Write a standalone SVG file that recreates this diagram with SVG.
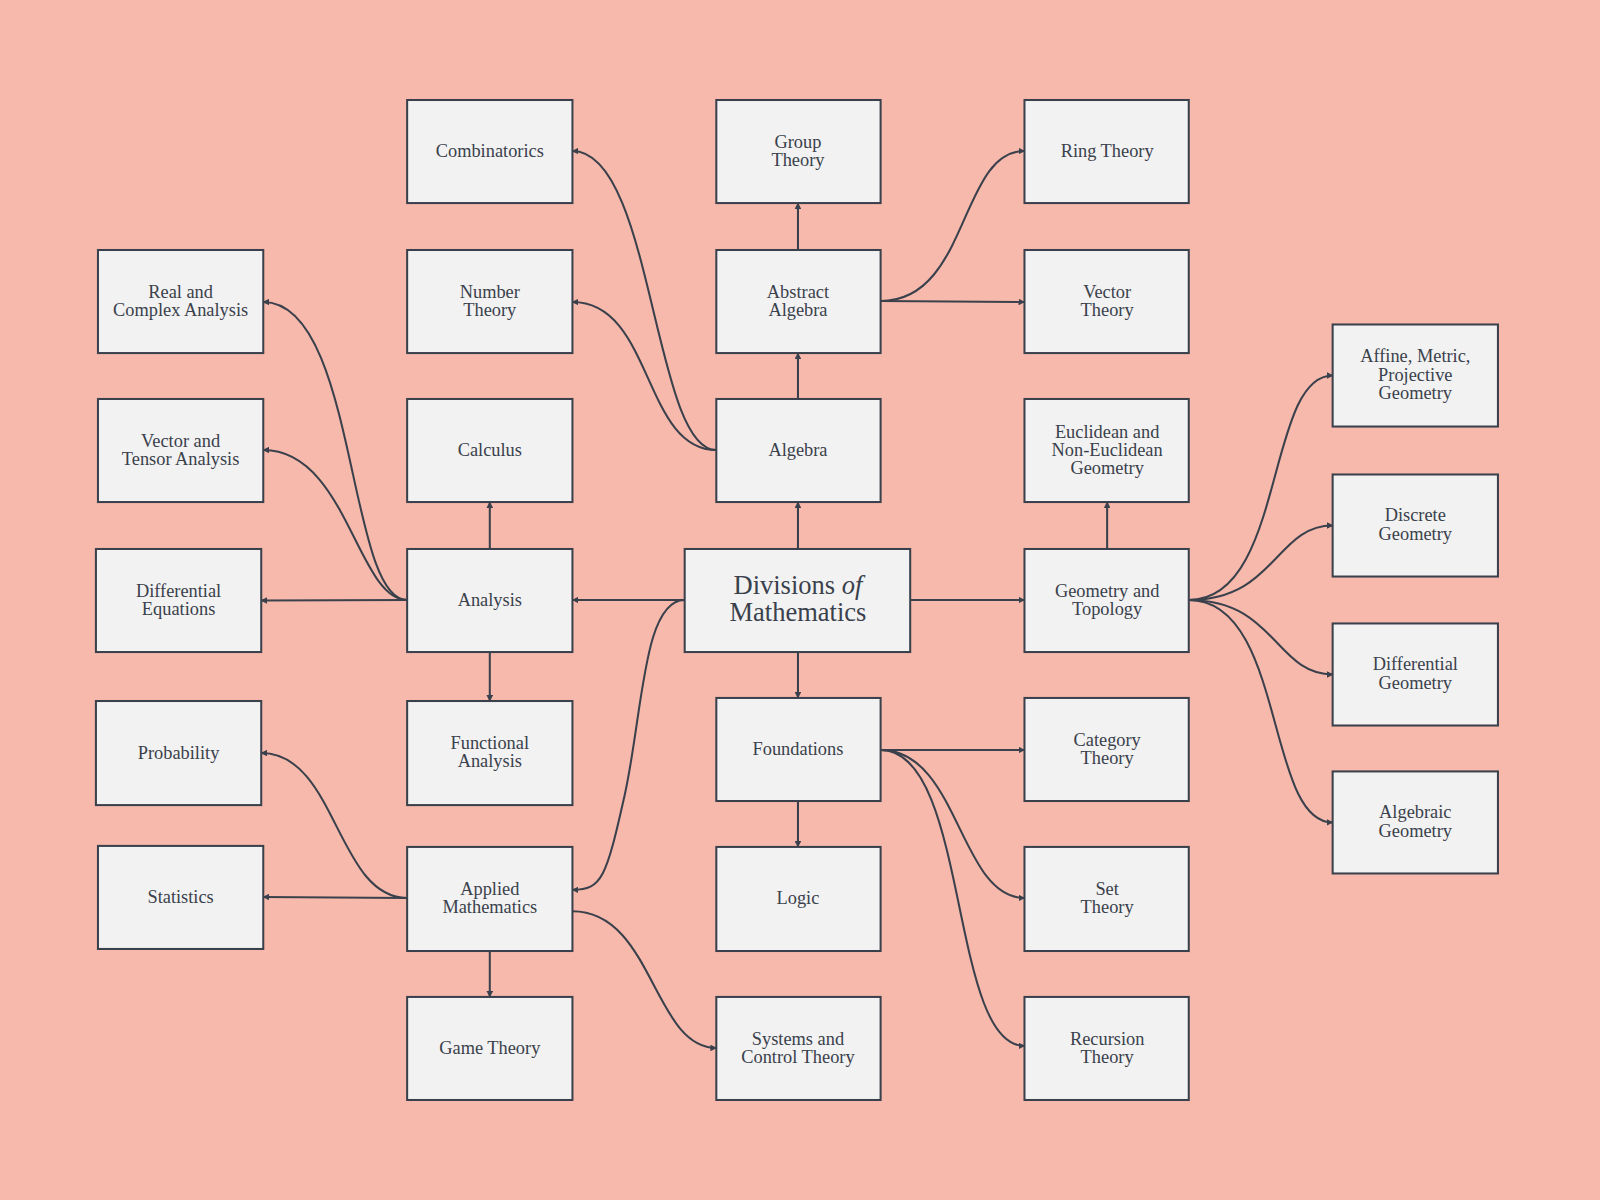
<svg xmlns="http://www.w3.org/2000/svg" width="1600" height="1200" viewBox="0 0 1600 1200">
<defs>
<marker id="a" viewBox="0 0 10 10" refX="9" refY="5" markerWidth="6.5" markerHeight="6.5" orient="auto" markerUnits="userSpaceOnUse"><path d="M0,0L10,5L0,10z" fill="#3a414c"/></marker>
<style>
.n rect{fill:#f2f2f2;stroke:#3a414c;stroke-width:2}
.n text{font-family:"Liberation Serif","DejaVu Serif",serif;font-size:18px;fill:#3a414c;text-anchor:middle}
#edges path{fill:none;stroke:#3a414c;stroke-width:2;marker-end:url(#a)}
</style>
</defs>
<rect width="1600" height="1200" fill="#f7b9ab"/>
<g transform="scale(1.0204)">
<g id="edges">
<path d="M671,588H561"/><path d="M892,588H1004"/><path d="M782,538V492"/><path d="M782,639V684"/>
<path d="M671,588C630,588 630,700 612,780S590,872 561,872"/>
<path d="M480,538V492"/><path d="M480,639V687"/><path d="M399,588L256,588.5"/>
<path d="M399,588C350,588 340,441 258,441"/>
<path d="M399,588C340,588 350,296 258,296"/>
<path d="M782,391V346"/>
<path d="M702,441C630,441 640,296 561,296"/>
<path d="M702,441C640,441 640,148 561,148"/>
<path d="M782,245V199"/>
<path d="M863,295C950,295 940,148 1004,148"/>
<path d="M863,295L1004,296"/>
<path d="M1085,538V492"/>
<path d="M1165,588C1260,588 1240,368 1306,368"/>
<path d="M1165,588C1250,588 1250,515 1306,515"/>
<path d="M1165,588C1250,588 1250,661 1306,661"/>
<path d="M1165,588C1260,588 1240,806 1306,806"/>
<path d="M863,735H1004"/>
<path d="M863,735C940,735 940,880 1004,880"/>
<path d="M863,735C950,735 930,1025 1004,1025"/>
<path d="M782,785V830"/>
<path d="M399,880C330,880 330,738 256,738"/>
<path d="M399,880L258,879"/>
<path d="M480,932V977"/>
<path d="M561,893C640,893 640,1027 702,1027"/>
</g>
<g id="center" class="n"><rect x="671" y="538" width="221" height="101"/><text x="782" y="582" style="font-size:26px">Divisions <tspan font-style="italic">of</tspan></text><text x="782" y="609" style="font-size:26px">Mathematics</text></g>
<g id="combinatorics" class="n"><rect x="399" y="98" width="162" height="101"/><text x="480" y="154">Combinatorics</text></g>
<g id="group" class="n"><rect x="702" y="98" width="161" height="101"/><text x="782" y="145">Group</text><text x="782" y="163">Theory</text></g>
<g id="ring" class="n"><rect x="1004" y="98" width="161" height="101"/><text x="1085" y="154">Ring Theory</text></g>
<g id="realcomplex" class="n"><rect x="96" y="245" width="162" height="101"/><text x="177" y="292">Real and</text><text x="177" y="310">Complex Analysis</text></g>
<g id="number" class="n"><rect x="399" y="245" width="162" height="101"/><text x="480" y="292">Number</text><text x="480" y="310">Theory</text></g>
<g id="abstract" class="n"><rect x="702" y="245" width="161" height="101"/><text x="782" y="292">Abstract</text><text x="782" y="310">Algebra</text></g>
<g id="vectortheory" class="n"><rect x="1004" y="245" width="161" height="101"/><text x="1085" y="292">Vector</text><text x="1085" y="310">Theory</text></g>
<g id="vectortensor" class="n"><rect x="96" y="391" width="162" height="101"/><text x="177" y="438">Vector and</text><text x="177" y="456">Tensor Analysis</text></g>
<g id="calculus" class="n"><rect x="399" y="391" width="162" height="101"/><text x="480" y="447">Calculus</text></g>
<g id="algebra" class="n"><rect x="702" y="391" width="161" height="101"/><text x="782" y="447">Algebra</text></g>
<g id="euclidean" class="n"><rect x="1004" y="391" width="161" height="101"/><text x="1085" y="429">Euclidean and</text><text x="1085" y="447">Non-Euclidean</text><text x="1085" y="465">Geometry</text></g>
<g id="diffeq" class="n"><rect x="94" y="538" width="162" height="101"/><text x="175" y="585">Differential</text><text x="175" y="603">Equations</text></g>
<g id="analysis" class="n"><rect x="399" y="538" width="162" height="101"/><text x="480" y="594">Analysis</text></g>
<g id="geometry" class="n"><rect x="1004" y="538" width="161" height="101"/><text x="1085" y="585">Geometry and</text><text x="1085" y="603">Topology</text></g>
<g id="probability" class="n"><rect x="94" y="687" width="162" height="102"/><text x="175" y="744">Probability</text></g>
<g id="functional" class="n"><rect x="399" y="687" width="162" height="102"/><text x="480" y="734">Functional</text><text x="480" y="752">Analysis</text></g>
<g id="foundations" class="n"><rect x="702" y="684" width="161" height="101"/><text x="782" y="740">Foundations</text></g>
<g id="category" class="n"><rect x="1004" y="684" width="161" height="101"/><text x="1085" y="731">Category</text><text x="1085" y="749">Theory</text></g>
<g id="statistics" class="n"><rect x="96" y="829" width="162" height="101"/><text x="177" y="885">Statistics</text></g>
<g id="applied" class="n"><rect x="399" y="830" width="162" height="102"/><text x="480" y="877">Applied</text><text x="480" y="895">Mathematics</text></g>
<g id="logic" class="n"><rect x="702" y="830" width="161" height="102"/><text x="782" y="886">Logic</text></g>
<g id="set" class="n"><rect x="1004" y="830" width="161" height="102"/><text x="1085" y="877">Set</text><text x="1085" y="895">Theory</text></g>
<g id="game" class="n"><rect x="399" y="977" width="162" height="101"/><text x="480" y="1033">Game Theory</text></g>
<g id="systems" class="n"><rect x="702" y="977" width="161" height="101"/><text x="782" y="1024">Systems and</text><text x="782" y="1042">Control Theory</text></g>
<g id="recursion" class="n"><rect x="1004" y="977" width="161" height="101"/><text x="1085" y="1024">Recursion</text><text x="1085" y="1042">Theory</text></g>
<g id="affine" class="n"><rect x="1306" y="318" width="162" height="100"/><text x="1387" y="355">Affine, Metric,</text><text x="1387" y="373">Projective</text><text x="1387" y="391">Geometry</text></g>
<g id="discrete" class="n"><rect x="1306" y="465" width="162" height="100"/><text x="1387" y="511">Discrete</text><text x="1387" y="529">Geometry</text></g>
<g id="diffgeom" class="n"><rect x="1306" y="611" width="162" height="100"/><text x="1387" y="657">Differential</text><text x="1387" y="675">Geometry</text></g>
<g id="algebraic" class="n"><rect x="1306" y="756" width="162" height="100"/><text x="1387" y="802">Algebraic</text><text x="1387" y="820">Geometry</text></g>
</g>
</svg>
